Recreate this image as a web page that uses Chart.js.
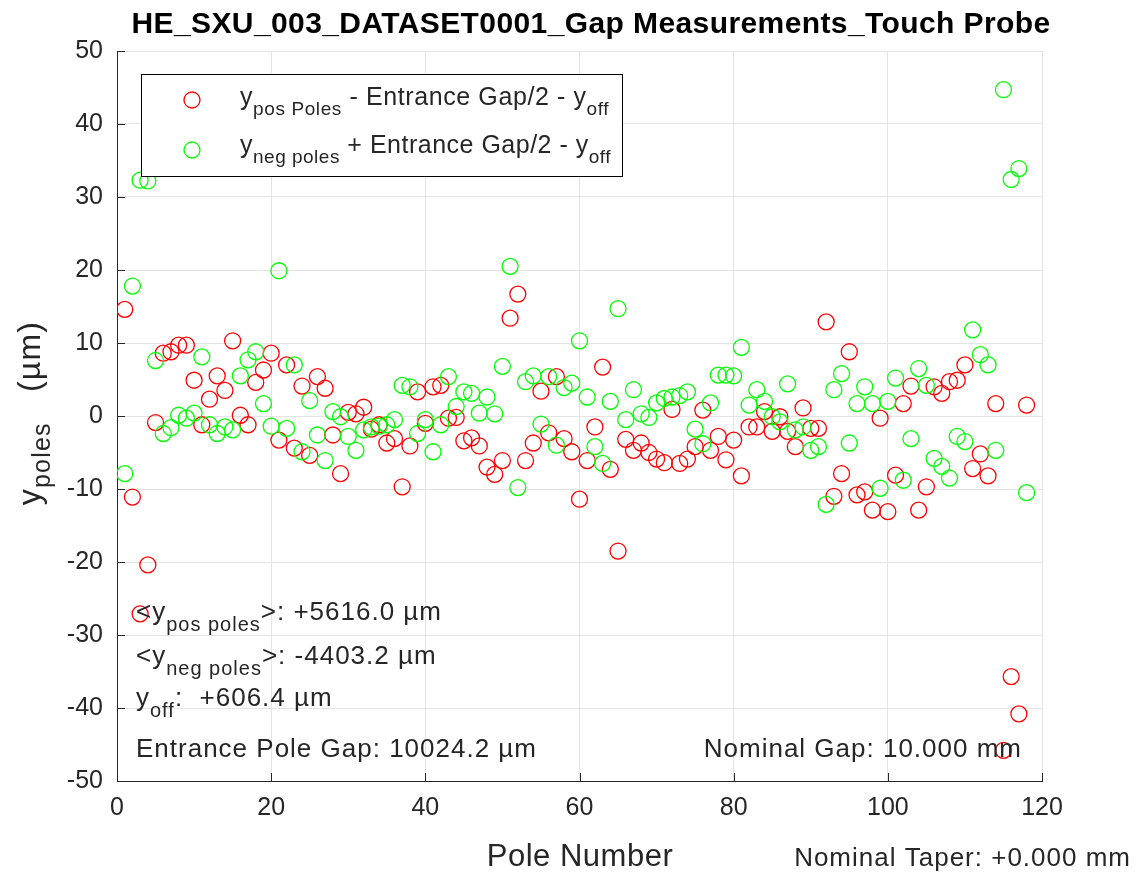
<!DOCTYPE html>
<html>
<head>
<meta charset="utf-8">
<script src="https://cdn.jsdelivr.net/npm/chart.js@4"></script>
<style>
html,body{margin:0;padding:0;background:#fff;}
#wrap{width:1144px;height:874px;}
</style>
</head>
<body>
<div id="wrap"><canvas id="c" width="1144" height="874"></canvas></div>
<script>
// pole index (x)
const poles = [1,2,3,4,5,6,7,8,9,10,11,12,13,14,15,16,17,18,19,20,
  21,22,23,24,25,26,27,28,29,30,31,32,33,34,35,36,37,38,39,40,
  41,42,43,44,45,46,47,48,49,50,51,52,53,54,55,56,57,58,59,60,
  61,62,63,64,65,66,67,68,69,70,71,72,73,74,75,76,77,78,79,80,
  81,82,83,84,85,86,87,88,89,90,91,92,93,94,95,96,97,98,99,100,
  101,102,103,104,105,106,107,108,109,110,111,112,113,114,115,116,117,118];

// y pos poles - entrance gap/2 - y_off  (um)
const posPoles = [14.6,-11.1,-27.1,-20.4,-0.9,8.6,8.8,9.7,9.7,4.9,
  -1.2,2.3,5.5,3.5,10.3,0.1,-1.2,4.6,6.3,8.6,
  -3.3,7.0,-4.4,4.1,-5.4,5.4,3.8,-2.6,-7.9,0.5,
  0.3,1.2,-1.8,-1.2,-3.7,-3.1,-9.7,-4.1,3.3,-1.0,
  4.0,4.2,-0.3,-0.2,-3.4,-3.0,-4.1,-7.0,-8.0,-6.1,
  13.4,16.7,-6.1,-3.7,3.4,-2.3,5.4,-3.1,-4.9,-11.4,
  -6.1,-1.5,6.7,-7.3,-18.5,-3.2,-4.7,-3.7,-5.0,-5.9,
  -6.4,0.9,-6.5,-5.9,-4.2,0.8,-4.7,-2.8,-6.0,-3.3,
  -8.2,-1.5,-1.5,0.6,-2.1,-0.1,-2.1,-4.2,1.1,-1.7,
  -1.7,12.9,-11.0,-7.9,8.8,-10.8,-10.4,-12.9,-0.3,-13.1,
  -8.1,1.7,4.1,-12.9,-9.7,4.0,3.1,4.7,4.9,7.0,
  -7.2,-5.2,-8.2,1.7,-45.8,-35.7,-40.8,1.5];

// y neg poles + entrance gap/2 - y_off  (um)
const negPoles = [-7.9,17.8,32.3,32.2,7.6,-2.4,-1.6,0.1,-0.3,0.4,
  8.1,-1.2,-2.4,-1.5,-1.9,5.5,7.7,8.8,1.7,-1.4,
  19.9,-1.7,7.0,-4.9,2.1,-2.6,-6.1,0.6,-0.1,-2.8,
  -4.7,-1.9,-1.5,-1.4,-1.2,-0.5,4.2,4.0,-2.4,-0.5,
  -4.9,-1.2,5.4,1.3,3.3,3.1,0.4,2.6,0.3,6.8,
  20.5,-9.8,4.7,5.5,-1.1,5.4,-4.0,3.9,4.5,10.3,
  2.6,-4.2,-6.5,2.0,14.7,-0.5,3.6,0.3,-0.2,1.8,
  2.4,2.6,2.8,3.3,-1.8,-3.8,1.8,5.6,5.6,5.5,
  9.4,1.5,3.6,2.0,-0.1,-0.8,4.4,-1.9,-1.5,-4.7,
  -4.2,-12.1,3.6,5.8,-3.7,1.7,4.0,1.7,-9.9,2.0,
  5.2,-8.8,-3.1,6.5,4.2,-5.8,-6.9,-8.5,-2.8,-3.5,
  11.8,8.4,7.0,-4.7,44.7,32.4,33.9,-10.5];

const xTicks = [0,20,40,60,80,100,120];
const yTicks = [-50,-40,-30,-20,-10,0,10,20,30,40,50];

const FONT = '"Liberation Sans", Arial, Helvetica, sans-serif';
const TXT = '#262626';

// draws text made of normal / subscript pieces
function richText(ctx, parts, x, y, size, opts){
  opts = opts || {};
  const subSize = opts.subSize || Math.round(size*0.75);
  const drop = opts.drop || Math.round(size*0.42);
  ctx.letterSpacing = (opts.ls || 0) + 'px';
  let w = 0;
  parts.forEach(p=>{
    ctx.font = `${p[1] ? subSize : size}px ${FONT}`;
    w += ctx.measureText(p[0]).width;
  });
  let cx = x;
  if(opts.align === 'right') cx = x - w;
  if(opts.align === 'center') cx = x - w/2;
  ctx.textAlign = 'left';
  ctx.textBaseline = 'alphabetic';
  parts.forEach(p=>{
    ctx.font = `${p[1] ? subSize : size}px ${FONT}`;
    ctx.fillText(p[0], cx, p[1] ? y + drop : y);
    cx += ctx.measureText(p[0]).width;
  });
  ctx.letterSpacing = '0px';
  return w;
}

const overlay = {
  id: 'overlay',
  afterDraw(chart){
    const ctx = chart.ctx;
    const a = chart.chartArea;
    const xs = chart.scales.x, ys = chart.scales.y;
    ctx.save();

    // inward tick marks like the original
    ctx.strokeStyle = TXT;
    ctx.lineWidth = 1;
    ctx.beginPath();
    yTicks.forEach(v=>{
      const py = Math.round(ys.getPixelForValue(v)) + 0.5;
      ctx.moveTo(a.left, py); ctx.lineTo(a.left + 8, py);
    });
    xTicks.forEach(v=>{
      const px = Math.round(xs.getPixelForValue(v)) + 0.5;
      ctx.moveTo(px, a.bottom); ctx.lineTo(px, a.bottom - 8);
    });
    ctx.stroke();

    ctx.fillStyle = '#000';
    // title
    ctx.letterSpacing = '0.4px';
    ctx.font = `bold 30px ${FONT}`;
    ctx.textAlign = 'center';
    ctx.textBaseline = 'alphabetic';
    ctx.fillText('HE_SXU_003_DATASET0001_Gap Measurements_Touch Probe', 591, 33);
    ctx.letterSpacing = '0px';

    // legend
    ctx.fillStyle = '#fff';
    ctx.fillRect(141.5, 74.5, 481, 102);
    ctx.strokeStyle = '#000';
    ctx.lineWidth = 1;
    ctx.strokeRect(141.5, 74.5, 481, 102);
    ctx.lineWidth = 1.3;
    ctx.strokeStyle = '#ff0000';
    ctx.beginPath(); ctx.arc(192, 100, 8, 0, Math.PI*2); ctx.stroke();
    ctx.strokeStyle = '#00ff00';
    ctx.beginPath(); ctx.arc(192, 150, 8, 0, Math.PI*2); ctx.stroke();
    ctx.fillStyle = TXT;
    richText(ctx, [['y',0],['pos Poles',1],[' - Entrance Gap/2 - y',0],['off',1]], 240, 105, 25, {subSize:19, drop:10, ls:0.6});
    richText(ctx, [['y',0],['neg poles',1],[' + Entrance Gap/2 - y',0],['off',1]], 240, 153, 25, {subSize:19, drop:10, ls:0.5});

    // annotations
    const an = {subSize:20, drop:11, ls:1};
    richText(ctx, [['<y',0],['pos poles',1],['>: +5616.0 µm',0]], 136, 620, 26, an);
    richText(ctx, [['<y',0],['neg poles',1],['>: -4403.2 µm',0]], 136, 664, 26, an);
    richText(ctx, [['y',0],['off',1],[':  +606.4 µm',0]], 136, 706, 26, an);
    richText(ctx, [['Entrance Pole Gap: 10024.2 µm',0]], 136, 757, 26, {ls:1});
    richText(ctx, [['Nominal Gap: 10.000 mm',0]], 1022, 757, 26, {ls:1, align:'right'});
    richText(ctx, [['Nominal Taper: +0.000 mm',0]], 1131, 866, 26, {ls:1, align:'right'});

    // axis titles
    ctx.fillStyle = TXT;
    richText(ctx, [['Pole Number',0]], 580, 866, 31, {ls:0.5, align:'center'});

    ctx.save();
    ctx.translate(40, 413);
    ctx.rotate(-Math.PI/2);
    richText(ctx, [['y',0],['poles',1],['   (µm)',0]], 0, 0, 32, {subSize:25, drop:10, ls:1.2, align:'center'});
    ctx.restore();

    ctx.restore();
  }
};

const ctx = document.getElementById('c').getContext('2d');
new Chart(ctx, {
  type: 'scatter',
  data: {
    datasets: [
      {
        label: 'pos',
        data: poles.map((p,i)=>({x:p, y:posPoles[i]})),
        pointRadius: 8,
        pointBorderWidth: 1.3,
        pointBorderColor: '#ff0000',
        pointBackgroundColor: 'rgba(0,0,0,0)',
        borderColor: '#ff0000',
        order: 2
      },
      {
        label: 'neg',
        data: poles.map((p,i)=>({x:p, y:negPoles[i]})),
        pointRadius: 8,
        pointBorderWidth: 1.3,
        pointBorderColor: '#00ff00',
        pointBackgroundColor: 'rgba(0,0,0,0)',
        borderColor: '#00ff00',
        order: 1
      }
    ]
  },
  options: {
    responsive: false,
    animation: false,
    devicePixelRatio: 1,
    layout: { padding: { top: 51, right: 102, left: 0, bottom: 0 } },
    plugins: { legend: { display: false }, tooltip: { enabled: false } },
    scales: {
      x: {
        type: 'linear', min: 0, max: 120,
        afterBuildTicks(s){ s.ticks = xTicks.map(v=>({value:v})); },
        ticks: { color: TXT, font: { family: FONT, size: 25 }, padding: 12, maxRotation: 0 },
        grid: { color: '#e4e4e4', drawTicks: false },
        border: { color: TXT, width: 1 },
        afterFit(s){ s.height = 93; }
      },
      y: {
        type: 'linear', min: -50, max: 50,
        afterBuildTicks(s){ s.ticks = yTicks.map(v=>({value:v})); },
        ticks: { color: TXT, font: { family: FONT, size: 25 }, padding: 14 },
        grid: { color: '#e4e4e4', drawTicks: false },
        border: { color: TXT, width: 1 },
        afterFit(s){ s.width = 117; }
      }
    }
  },
  plugins: [overlay]
});
</script>
</body>
</html>
